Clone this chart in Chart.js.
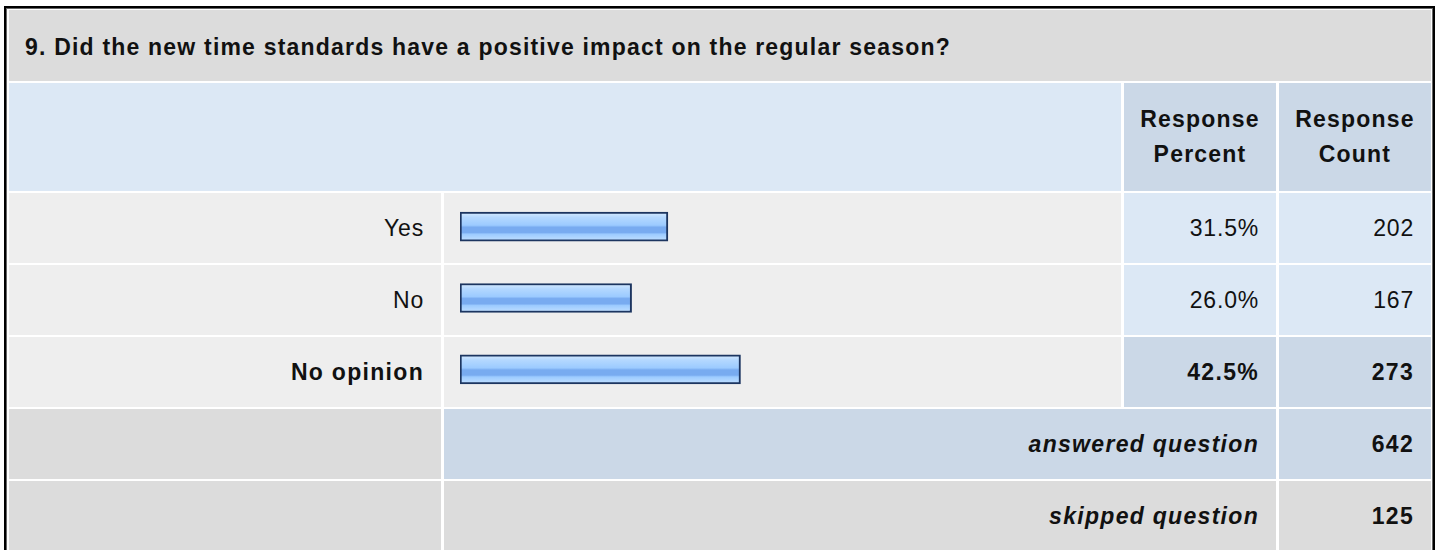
<!DOCTYPE html>
<html>
<head>
<meta charset="utf-8">
<script src="https://cdn.jsdelivr.net/npm/chart.js@4"></script>
<style>
  body { margin: 0; background: #fff; width: 1440px; height: 550px; overflow: hidden; position: relative;
         font-family: "Liberation Sans", Arial, sans-serif; color: #111; }
  #box { position: absolute; left: 4px; top: 6px; border: 2px solid #000; border-bottom: none;
         box-shadow: inset 0 0 0 1px #666; padding: 2px 2px 0 3px; }
  #grid { display: grid; grid-template-columns: 432px 677px 152px 152px; column-gap: 3px;
          grid-template-rows: 71px 108px 70px 70px 70px 70px 70px; row-gap: 2px; }
  .c { display: flex; align-items: center; font-size: 23px; letter-spacing: 0.8px; }
  .r { justify-content: flex-end; padding-right: 17px; }
  .b { font-weight: bold; letter-spacing: 1.3px; }
  .i { font-style: italic; }
  .title { grid-column: 1 / 5; background: #dcdcdc; padding-left: 16px; padding-top: 3px; font-weight: bold; letter-spacing: 1.2px; }
  .head { justify-content: center; text-align: center; font-weight: bold; letter-spacing: 1.2px; line-height: 35px; }
  .grey { background: #dcdcdc; }
  .light { background: #eeeeee; }
  .blue { background: #dce8f5; }
  .blue2 { background: #cbd8e7; }
  #wrap { position: absolute; left: 444px; top: 191px; width: 677px; height: 214px; pointer-events: none; }
</style>
</head>
<body>
<div id="box"><div id="grid"></div></div>
<div id="wrap"><canvas id="bars" width="677" height="214"></canvas></div>
<script>
const question = "9. Did the new time standards have a positive impact on the regular season?";
const answers = ["Yes", "No", "No opinion"];
const percents = [31.5, 26.0, 42.5];
const counts = [202, 167, 273];
const answeredCount = 642;
const skippedCount = 125;

const grid = document.getElementById("grid");
function cell(cls, html, style) {
  const d = document.createElement("div");
  d.className = "c " + cls;
  d.innerHTML = html;
  if (style) d.style.cssText = style;
  grid.appendChild(d);
}

//Header rows
cell("title", question);
cell("blue", "", "grid-column: 1 / 3");
cell("blue2 head", "Response<br>Percent");
cell("blue2 head", "Response<br>Count");

//Answer rows, the biggest one is bold
const maxIdx = percents.indexOf(Math.max(...percents));
answers.forEach((a, i) => {
  const bold = i === maxIdx ? " b" : "";
  const bg = i === maxIdx ? " blue2" : " blue";
  cell("light r" + bold, a);
  cell("light", "");
  cell("r" + bg + bold, percents[i].toFixed(1) + "%");
  cell("r" + bg + bold, counts[i]);
});

//Totals
cell("grey", "");
cell("blue2 r b i", "answered question", "grid-column: 2 / 4");
cell("blue2 r b", answeredCount);
cell("grey", "");
cell("grey r b i", "skipped question", "grid-column: 2 / 4");
cell("grey r b", skippedCount);

//Bars
const barH = 29;
function barFill(context) {
  const chart = context.chart;
  const y = chart.scales.y;
  if (!y || context.dataIndex === undefined) return "#99ccff";
  const c = y.getPixelForValue(context.dataIndex);
  if (!isFinite(c)) return "#99ccff";
  const g = chart.ctx.createLinearGradient(0, c - barH / 2, 0, c + barH / 2);
  g.addColorStop(0, "#d8ecff");
  g.addColorStop(0.18, "#b4d8ff");
  g.addColorStop(0.45, "#9ccbff");
  g.addColorStop(0.52, "#78abf0");
  g.addColorStop(0.7, "#78abf0");
  g.addColorStop(0.76, "#9ccbff");
  g.addColorStop(1, "#c2e0ff");
  return g;
}

new Chart(document.getElementById("bars"), {
  type: "bar",
  data: {
    labels: answers,
    datasets: [{
      data: percents,
      backgroundColor: barFill,
      borderColor: "#1c3560",
      borderWidth: 2,
      borderSkipped: false,
      barThickness: barH,
    }],
  },
  options: {
    indexAxis: "y",
    responsive: false,
    animation: false,
    layout: { padding: { left: 16, right: 1, top: 0, bottom: 0 } },
    scales: {
      x: { display: false, min: 0, max: 100 },
      y: { display: false },
    },
    plugins: { legend: { display: false }, tooltip: { enabled: false } },
  },
});
</script>
</body>
</html>
